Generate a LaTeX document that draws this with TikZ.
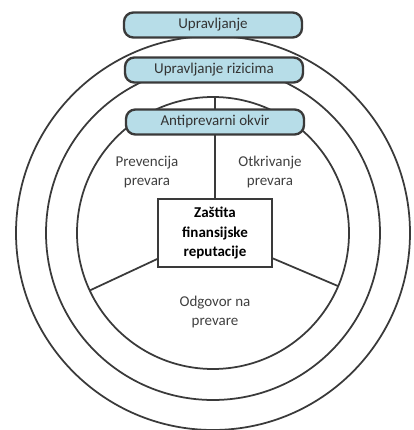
\documentclass[tikz,border=0pt]{standalone}
\usepackage{fontspec}
\setmainfont{Carlito}

\definecolor{bandblue}{HTML}{B7DDE8}
\definecolor{inkgray}{HTML}{3A3A3A}

\tikzset{
  ring/.style={draw=inkgray, line width=1.5pt},
  spoke/.style={draw=inkgray, line width=1.5pt},
  band/.style={draw=inkgray, line width=2pt, fill=bandblue, rounded corners=8pt,
    minimum width=5.34cm, minimum height=0.75cm, inner sep=0pt,
    font=\fontsize{12.8}{16}\selectfont, text=black!80},
  corebox/.style={draw=inkgray, line width=2pt, fill=white,
    minimum width=3.42cm, minimum height=2.04cm, align=center,
    font=\fontsize{12.8}{16.5}\selectfont\bfseries},
  sectortext/.style={align=center, font=\fontsize{12.8}{16.5}\selectfont, text=black!75}
}

\begin{document}
\begin{tikzpicture}[x=0.03cm, y=0.03cm]
    \useasboundingbox (-213,233) rectangle (200,-197);

    \coordinate (c) at (0,0);
    \draw[ring] (c) circle (197) (c) circle (167) (c) circle (136);

    \coordinate (top) at (2,136);
    \coordinate (lft) at (205:136);
    \coordinate (rgt) at (-23:136);

    \node[band] (gov) at (0,208) {Upravljanje};
    \node[band] (risk) at (1,163) {Upravljanje rizicima};

    \draw[spoke] (c) -- (lft) (c) -- (rgt) (top) -- (2,0);
    \node[band] (frame) at (2,111) {Antiprevarni okvir};
    \node[corebox] (core) at (2,0) {Zaštita\\finansijske\\reputacije};

    \node[sectortext] (prev) at (-66,61) {Prevencija\\prevara};
    \node[sectortext] (detect) at (57,61) {Otkrivanje\\prevara};
    \node[sectortext] (answer) at (2,-79) {Odgovor na\\prevare};
  \end{tikzpicture}
\end{document}
